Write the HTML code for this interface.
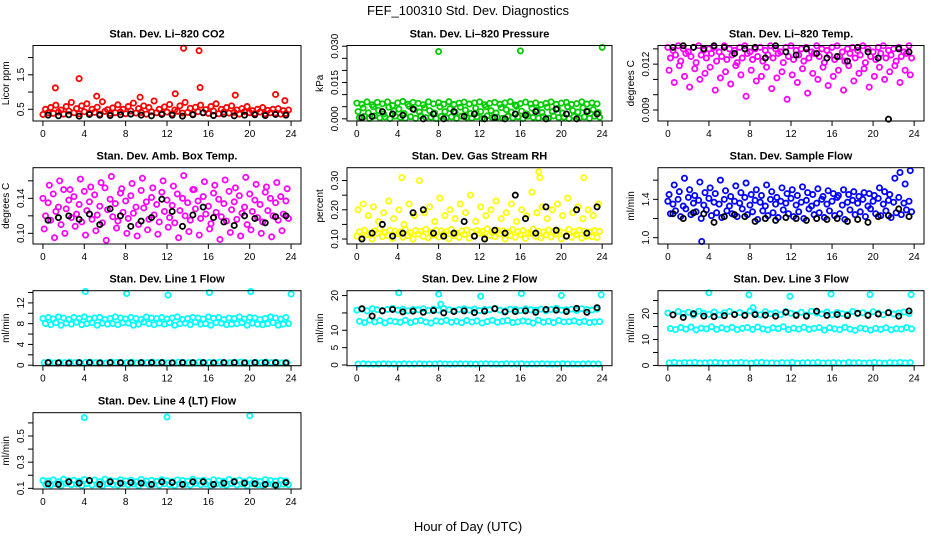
<!DOCTYPE html>
<html><head><meta charset="utf-8">
<style>
html,body{margin:0;padding:0;background:#fff;}
svg{display:block;font-family:"Liberation Sans",Arial,sans-serif;}
</style></head>
<body>
<svg id="chart" width="936" height="540" viewBox="0 0 936 540">
<text x="468" y="15" text-anchor="middle" font-size="13">FEF_100310  Std. Dev. Diagnostics</text>
<text x="468" y="531" text-anchor="middle" font-size="13">Hour of Day (UTC)</text>
</svg>
<script>
const xTicks=[0,4,8,12,16,20,24];
// P1 CO2
const co2A=[0.35,0.4,0.38,0.42,0.36,0.45,0.4,0.37,0.43,0.39,0.41,0.36,0.44,0.38,0.4,0.42,0.37,0.45,0.39,0.41,0.36,0.43,0.4,0.38,0.42,0.37,0.44,0.39,0.41,0.36,0.43,0.4,0.38,0.45,0.37,0.42,0.39,0.41,0.36,0.43,0.4,0.38,0.42,0.37,0.4,0.39,0.36,0.38];
const co2B=[0.5,0.55,0.62,0.48,0.58,0.7,0.52,0.6,0.66,0.5,0.56,0.72,0.49,0.54,0.63,0.5,0.58,0.68,0.52,0.6,0.55,0.74,0.5,0.57,0.64,0.48,0.6,0.7,0.53,0.56,0.62,0.49,0.58,0.66,0.5,0.55,0.6,0.48,0.52,0.58,0.46,0.5,0.55,0.47,0.5,0.52,0.46,0.48];
const co2K=[0.33,0.31,0.34,0.3,0.35,0.33,0.32,0.34,0.36,0.33,0.31,0.35,0.33,0.3,0.34,0.4,0.32,0.36,0.31,0.33,0.34,0.32,0.35,0.33];
const co2OutH=[1.2,3.5,5.2,9.4,12.8,13.6,15.1,15.2,18.6,22.5,23.4];
const co2OutV=[1.12,1.39,0.88,0.85,0.95,2.27,2.2,1.13,0.91,0.93,0.75];
// P2 pressure
const prA=[0.0065,0.006,0.007,0.0058,0.0068,0.0062,0.007,0.0055,0.0066,0.0072,0.006,0.0068,0.0064,0.0058,0.007,0.0062,0.0067,0.006,0.0071,0.0059,0.0065,0.0069,0.0061,0.0066,0.007,0.0058,0.0064,0.0068,0.006,0.0066,0.0071,0.0057,0.0063,0.0069,0.0061,0.0066,0.0058,0.0064,0.007,0.006,0.0065,0.0068,0.0059,0.0063,0.007,0.0061,0.0066,0.0062];
const prB=[0.0005,0.001,0.0002,0.0012,0.0004,0.0008,0.0001,0.0011,0.0006,0.0003,0.0009,0.0002,0.0012,0.0005,0.0007,0.0001,0.001,0.0004,0.0008,0.0002,0.0011,0.0006,0.0003,0.0009,0.0001,0.0012,0.0005,0.0007,0.0002,0.001,0.0004,0.0008,0.0001,0.0011,0.0006,0.0003,0.0009,0.0002,0.0012,0.0005,0.0007,0.0001,0.001,0.0004,0.0008,0.0002,0.0011,0.0006];
const prC=[0.003,0.0045,0.0025,0.005,0.0035,0.002,0.0048,0.0032,0.004,0.0022,0.0052,0.0038,0.0028,0.0046,0.0034,0.0024,0.005,0.003,0.0042,0.0026,0.0048,0.0036,0.0022,0.0044,0.003,0.005,0.0034,0.0024,0.0046,0.0038,0.0028,0.0052,0.0032,0.002,0.0044,0.0036,0.0026,0.0048,0.003,0.0042,0.0024,0.005,0.0034,0.0028,0.0046,0.0032,0.0038,0.0026];
const prK=[0.0005,0.001,0.003,0.002,0.0015,0.004,0.0,0.002,0.0,0.003,0.001,0.002,0.0,0.0005,0.0,0.002,0.0015,0.003,0.0,0.004,0.002,0.0,0.003,0.002];
const prOutH=[8,16,24];
const prOutV=[0.0278,0.0281,0.0295];
// P3 Li-820 temp
const ltA=[0.0131,0.0129,0.0132,0.013,0.0128,0.0131,0.0132,0.0129,0.013,0.0131,0.0128,0.0132,0.013,0.0129,0.0131,0.0132,0.0128,0.013,0.0131,0.0129,0.0132,0.013,0.0128,0.0131,0.0132,0.0129,0.013,0.0131,0.0128,0.0132,0.013,0.0129,0.0131,0.0132,0.0128,0.013,0.0131,0.0129,0.0132,0.013,0.0128,0.0131,0.0132,0.0129,0.013,0.0131,0.0128,0.0132];
const ltB=[0.0124,0.0126,0.0122,0.0127,0.0125,0.0121,0.0126,0.0124,0.0127,0.0122,0.0125,0.0123,0.0126,0.0121,0.0124,0.0127,0.0123,0.0125,0.0122,0.0126,0.0124,0.0127,0.0121,0.0125,0.0123,0.0126,0.0122,0.0124,0.0127,0.0125,0.0121,0.0126,0.0123,0.0125,0.0122,0.0127,0.0124,0.0126,0.0121,0.0125,0.0123,0.0127,0.0124,0.0126,0.0122,0.0125,0.0127,0.0124];
const ltC=[0.0116,0.0108,0.0119,0.0112,0.0105,0.0117,0.011,0.0114,0.0118,0.0103,0.0111,0.0115,0.0107,0.0119,0.0113,0.0099,0.0116,0.0109,0.0112,0.0118,0.0104,0.0111,0.0115,0.0097,0.0113,0.0108,0.0117,0.0101,0.0114,0.011,0.0118,0.0106,0.0112,0.0116,0.0103,0.0119,0.0109,0.0114,0.0117,0.0105,0.0112,0.0118,0.011,0.0115,0.0119,0.0108,0.0116,0.0113];
const ltK=[0.0131,0.0132,0.0131,0.013,0.0132,0.0131,0.0127,0.013,0.0131,0.0124,0.0132,0.0128,0.0126,0.013,0.0127,0.0124,0.0125,0.0122,0.0131,0.0128,0.0124,0.0084,0.013,0.0128];
// P4 amb box temp
const abA=[0.14,0.135,0.145,0.13,0.15,0.138,0.142,0.133,0.148,0.136,0.144,0.131,0.152,0.139,0.134,0.146,0.137,0.143,0.13,0.149,0.136,0.141,0.133,0.147,0.138,0.132,0.145,0.14,0.135,0.15,0.137,0.142,0.131,0.146,0.139,0.134,0.148,0.136,0.143,0.13,0.145,0.138,0.133,0.147,0.14,0.135,0.142,0.137];
const abB=[0.12,0.115,0.125,0.11,0.128,0.118,0.122,0.113,0.126,0.116,0.121,0.112,0.127,0.119,0.114,0.124,0.117,0.123,0.11,0.129,0.116,0.121,0.113,0.125,0.118,0.112,0.126,0.12,0.115,0.128,0.117,0.122,0.111,0.124,0.119,0.114,0.127,0.116,0.123,0.11,0.125,0.118,0.113,0.126,0.12,0.115,0.122,0.117];
const abC=[0.105,0.155,0.095,0.16,0.1,0.15,0.108,0.162,0.098,0.153,0.103,0.158,0.092,0.165,0.106,0.151,0.1,0.157,0.097,0.163,0.104,0.152,0.099,0.16,0.107,0.154,0.095,0.166,0.102,0.15,0.098,0.159,0.105,0.155,0.093,0.161,0.101,0.152,0.097,0.164,0.104,0.156,0.1,0.153,0.096,0.158,0.103,0.151];
const abK=[0.115,0.118,0.12,0.116,0.122,0.11,0.128,0.12,0.108,0.114,0.118,0.139,0.125,0.108,0.121,0.13,0.118,0.113,0.109,0.12,0.117,0.112,0.119,0.12];
// P5 RH
const rhA=[0.11,0.105,0.115,0.1,0.12,0.108,0.113,0.102,0.118,0.106,0.112,0.1,0.117,0.109,0.104,0.114,0.107,0.119,0.101,0.111,0.106,0.116,0.103,0.11,0.12,0.105,0.113,0.108,0.118,0.1,0.112,0.106,0.115,0.102,0.119,0.109,0.104,0.114,0.107,0.117,0.101,0.111,0.106,0.116,0.103,0.11,0.108,0.105];
const rhB=[0.125,0.13,0.12,0.128,0.135,0.122,0.13,0.127,0.124,0.132,0.121,0.129,0.126,0.134,0.123,0.13,0.128,0.125,0.133,0.12,0.127,0.131,0.124,0.129,0.126,0.135,0.122,0.13,0.128,0.123,0.132,0.125,0.129,0.121,0.134,0.127,0.124,0.131,0.126,0.128,0.122,0.133,0.125,0.13,0.127,0.124,0.129,0.126];
const rhC=[0.2,0.22,0.18,0.21,0.16,0.19,0.23,0.17,0.2,0.15,0.22,0.18,0.3,0.19,0.21,0.16,0.24,0.18,0.2,0.17,0.22,0.19,0.25,0.16,0.21,0.18,0.2,0.23,0.17,0.19,0.22,0.16,0.2,0.18,0.26,0.19,0.21,0.17,0.2,0.22,0.18,0.24,0.19,0.21,0.17,0.2,0.18,0.22];
const rhK=[0.1,0.12,0.15,0.11,0.12,0.19,0.2,0.12,0.11,0.12,0.16,0.11,0.1,0.13,0.12,0.25,0.17,0.12,0.21,0.13,0.11,0.2,0.12,0.21];
const rhOutH=[4.4,17.8,17.9,22.2];
const rhOutV=[0.31,0.33,0.31,0.31];
// P6 sample flow
const sfA=[1.38,1.35,1.4,1.33,1.42,1.36,1.39,1.34,1.41,1.37,1.35,1.4,1.33,1.38,1.36,1.42,1.34,1.39,1.37,1.33,1.4,1.35,1.38,1.36,1.41,1.34,1.37,1.39,1.33,1.36,1.4,1.35,1.38,1.42,1.34,1.37,1.39,1.36,1.4,1.33,1.38,1.41,1.35,1.39,1.37,1.42,1.36,1.38];
const sfB=[1.25,1.28,1.22,1.3,1.24,1.27,1.2,1.29,1.23,1.26,1.21,1.28,1.25,1.22,1.3,1.24,1.27,1.19,1.28,1.23,1.26,1.21,1.29,1.25,1.22,1.27,1.2,1.3,1.24,1.26,1.21,1.28,1.23,1.25,1.19,1.29,1.24,1.27,1.22,1.3,1.25,1.23,1.28,1.21,1.26,1.24,1.29,1.27];
const sfC=[1.45,1.55,1.48,1.62,1.5,1.44,1.58,1.47,1.52,1.46,1.6,1.49,1.43,1.54,1.47,1.57,1.45,1.5,1.44,1.55,1.48,1.42,1.52,1.46,1.5,1.44,1.53,1.47,1.45,1.51,1.43,1.49,1.46,1.44,1.5,1.45,1.48,1.43,1.47,1.46,1.44,1.52,1.48,1.45,1.62,1.68,1.56,1.7];
const sfK=[1.25,1.2,1.26,1.25,1.16,1.22,1.24,1.22,1.17,1.2,1.18,1.21,1.2,1.18,1.2,1.19,1.2,1.17,1.19,1.16,1.22,1.23,1.3,1.22];
const sfOutH=[3.3];
const sfOutV=[0.96];
// P7 line 1
const l1A=[9.0,9.2,8.9,9.3,9.1,8.8,9.2,9.0,9.3,8.9,9.1,9.2,8.8,9.0,9.3,9.1,8.9,9.2,9.0,8.8,9.3,9.1,9.0,9.2,8.9,9.1,9.3,8.8,9.0,9.2,9.1,8.9,9.3,9.0,9.2,8.8,9.1,9.0,9.3,8.9,9.2,9.1,8.8,9.0,9.3,9.1,8.9,9.2];
const l1B=[8.0,7.8,8.2,7.7,8.1,7.9,8.3,7.8,8.0,8.2,7.7,8.1,7.9,8.0,7.8,8.2,8.1,7.7,7.9,8.3,8.0,7.8,8.1,7.9,8.2,7.7,8.0,8.1,7.8,8.3,7.9,8.0,7.7,8.2,8.1,7.8,7.9,8.0,8.2,7.7,8.1,7.9,7.8,8.0,8.2,7.7,7.9,8.0];
const l1C=[0.5,0.6,0.45,0.55,0.5,0.6,0.5,0.45,0.55,0.6,0.5,0.5,0.45,0.6,0.55,0.5,0.5,0.6,0.45,0.55,0.5,0.6,0.5,0.55,0.45,0.5,0.6,0.55,0.5,0.45,0.6,0.5,0.55,0.5,0.6,0.45,0.5,0.55,0.6,0.5,0.45,0.55,0.5,0.6,0.5,0.55,0.45,0.5];
const l1K=[0.5,0.45,0.4,0.5,0.5,0.45,0.5,0.5,0.45,0.5,0.5,0.5,0.45,0.5,0.5,0.5,0.45,0.5,0.5,0.45,0.5,0.5,0.5,0.45];
const l1OutH=[4.1,8.1,12.1,16.1,20.1,24];
const l1OutV=[14.2,13.8,13.5,14.0,14.2,13.7];
// P8 line 2
const l2A=[15.8,16.1,15.6,16.2,15.9,15.7,16.0,16.3,15.8,16.1,15.6,16.0,15.9,16.2,15.7,16.1,15.8,16.3,15.9,15.6,16.0,16.2,15.8,16.1,15.7,16.0,15.9,16.3,15.8,15.6,16.1,16.0,15.7,16.2,15.9,15.8,16.1,15.6,16.0,16.3,15.8,15.9,16.1,15.7,16.2,16.0,15.8,16.1];
const l2B=[12.6,12.2,12.9,12.4,12.8,12.1,12.7,12.5,12.3,12.9,12.2,12.6,12.8,12.4,12.1,12.7,12.5,12.9,12.3,12.6,12.2,12.8,12.4,12.7,12.1,12.5,12.9,12.3,12.6,12.8,12.2,12.4,12.7,12.5,12.1,12.9,12.3,12.6,12.2,12.8,12.4,12.5,12.7,12.3,12.6,12.2,12.4,12.5];
const l2C=[0.3,0.35,0.3,0.25,0.3,0.35,0.3,0.3,0.25,0.35,0.3,0.3,0.35,0.25,0.3,0.3,0.35,0.3,0.25,0.3,0.35,0.3,0.3,0.25,0.3,0.35,0.3,0.3,0.25,0.35,0.3,0.3,0.35,0.25,0.3,0.3,0.35,0.3,0.25,0.3,0.35,0.3,0.3,0.25,0.3,0.35,0.3,0.3];
const l2K=[16.2,14.1,15.6,16.0,15.3,15.5,15.2,15.7,15.0,15.4,15.6,15.1,15.5,16.2,15.3,15.4,15.6,15.2,16.0,15.8,15.4,16.3,15.2,16.5];
const l2OutH=[4.1,8.0,8.2,12.1,16.1,20.0,23.9];
const l2OutV=[20.8,20.4,17.5,19.8,20.6,20.0,20.2];
// P9 line 3
const l3A=[20.2,19.6,20.8,19.9,20.5,19.4,20.9,20.1,19.7,20.6,19.5,20.3,20.8,19.8,20.4,19.6,21.0,20.0,19.5,20.7,19.9,20.3,19.6,20.8,20.1,19.7,20.5,19.4,20.9,20.2,19.8,20.6,19.5,20.4,20.0,19.7,20.8,19.9,20.3,19.6,20.7,20.1,19.5,20.5,19.8,20.2,20.6,20.0];
const l3B=[14.2,13.8,14.6,14.0,14.8,13.7,14.4,14.1,14.9,13.9,14.5,14.0,14.7,13.8,14.3,14.6,13.9,14.8,14.1,13.7,14.5,14.2,14.9,13.8,14.4,14.0,14.7,13.9,14.3,14.6,13.6,14.5,14.1,13.8,14.7,14.0,13.5,14.4,14.1,13.6,14.3,13.9,14.5,13.7,14.2,14.0,14.6,14.1];
const l3C=[1.0,1.2,0.9,1.1,1.0,1.2,0.9,1.0,1.1,1.2,1.0,0.9,1.1,1.0,1.2,1.0,0.9,1.1,1.2,1.0,1.0,0.9,1.1,1.0,1.2,0.9,1.0,1.1,1.0,1.2,0.9,1.0,1.1,1.0,0.9,1.2,1.0,1.1,0.9,1.0,1.2,1.0,0.9,1.1,1.0,1.2,1.0,1.1];
const l3K=[19.5,18.5,19.9,19.0,18.8,19.2,19.6,19.3,19.6,19.4,19.0,20.5,19.3,19.0,20.9,19.3,19.6,19.2,20.1,19.3,19.8,20.3,19.0,21.0];
const l3OutH=[4.0,7.9,8.3,11.9,15.9,19.7,23.7];
const l3OutV=[28.0,27.2,22.3,26.6,27.5,27.3,27.3];
// P10 line 4
const l4A=[0.16,0.155,0.165,0.15,0.17,0.158,0.162,0.153,0.168,0.156,0.164,0.151,0.17,0.159,0.154,0.166,0.157,0.163,0.15,0.169,0.156,0.161,0.153,0.167,0.158,0.152,0.165,0.16,0.155,0.17,0.157,0.162,0.151,0.166,0.159,0.154,0.168,0.156,0.163,0.15,0.165,0.158,0.153,0.167,0.16,0.155,0.162,0.157];
const l4B=[0.13,0.125,0.135,0.12,0.138,0.128,0.132,0.122,0.136,0.126,0.131,0.12,0.137,0.129,0.124,0.134,0.127,0.133,0.12,0.139,0.126,0.131,0.123,0.135,0.128,0.122,0.136,0.13,0.125,0.138,0.127,0.132,0.121,0.134,0.129,0.124,0.137,0.126,0.133,0.12,0.135,0.128,0.123,0.136,0.13,0.125,0.132,0.127];
const l4K=[0.135,0.13,0.15,0.14,0.16,0.13,0.15,0.14,0.145,0.14,0.13,0.15,0.145,0.13,0.15,0.15,0.13,0.14,0.15,0.14,0.135,0.13,0.125,0.145];
const l4OutH=[4.0,12.0,20.0];
const l4OutV=[0.64,0.645,0.655];

const panels=[
 {name:'co2',title:'Stan. Dev. Li\u2013820 CO2',ylab:'Licor ppm',col:0,row:0,ylim:[0.16,2.35],yt:[0.5,1,1.5,2],yl:['0.5','','1.5',''],color:'#ff0000',series:[co2A,co2B],black:co2K,outH:co2OutH,outV:co2OutV},
 {name:'pressure',title:'Stan. Dev. Li\u2013820 Pressure',ylab:'kPa',col:1,row:0,ylim:[-0.0009,0.0303],yt:[0,0.005,0.01,0.015,0.02,0.025,0.03],yl:['0.000','','','0.015','','','0.030'],color:'#00cc00',series:[prA,prB,prC],black:prK,outH:prOutH,outV:prOutV},
 {name:'li820-temp',title:'Stan. Dev. Li\u2013820 Temp.',ylab:'degrees C',col:2,row:0,ylim:[0.00828,0.01322],yt:[0.009,0.010,0.011,0.012,0.013],yl:['0.009','','','0.012',''],color:'#ff00ff',series:[ltA,ltB,ltC],black:ltK,outH:[],outV:[]},
 {name:'amb-box-temp',title:'Stan. Dev. Amb. Box Temp.',ylab:'degrees C',col:0,row:1,ylim:[0.0878,0.175],yt:[0.10,0.12,0.14,0.16],yl:['0.10','','0.14',''],color:'#ff00ff',series:[abA,abB,abC],black:abK,outH:[],outV:[]},
 {name:'gas-rh',title:'Stan. Dev. Gas Stream RH',ylab:'percent',col:1,row:1,ylim:[0.083,0.344],yt:[0.10,0.15,0.20,0.25,0.30],yl:['0.10','','0.20','','0.30'],color:'#ffff00',series:[rhA,rhB,rhC],black:rhK,outH:rhOutH,outV:rhOutV},
 {name:'sample-flow',title:'Stan. Dev. Sample Flow',ylab:'ml/min',col:2,row:1,ylim:[0.934,1.73],yt:[1.0,1.2,1.4,1.6],yl:['1.0','','1.4',''],color:'#0000ff',series:[sfA,sfB,sfC],black:sfK,outH:sfOutH,outV:sfOutV},
 {name:'line1-flow',title:'Stan. Dev. Line 1 Flow',ylab:'ml/min',col:0,row:2,ylim:[-0.1,14.35],yt:[0,2,4,6,8,10,12,14],yl:['0','','4','','8','','12',''],color:'#00ffff',series:[l1A,l1B,l1C],black:l1K,outH:l1OutH,outV:l1OutV},
 {name:'line2-flow',title:'Stan. Dev. Line 2 Flow',ylab:'ml/min',col:1,row:2,ylim:[-0.2,21.4],yt:[0,5,10,15,20],yl:['0','5','10','','20'],color:'#00ffff',series:[l2A,l2B,l2C],black:l2K,outH:l2OutH,outV:l2OutV},
 {name:'line3-flow',title:'Stan. Dev. Line 3 Flow',ylab:'ml/min',col:2,row:2,ylim:[-0.1,28.8],yt:[0,5,10,15,20,25],yl:['0','','10','','20',''],color:'#00ffff',series:[l3A,l3B,l3C],black:l3K,outH:l3OutH,outV:l3OutV},
 {name:'line4-flow',title:'Stan. Dev. Line 4 (LT) Flow',ylab:'ml/min',col:0,row:3,ylim:[0.095,0.678],yt:[0.1,0.2,0.3,0.4,0.5,0.6],yl:['0.1','','0.3','','0.5',''],color:'#00ffff',series:[l4A,l4B],black:l4K,outH:l4OutH,outV:l4OutV}
];
const colX=[[33,301],[347,612],[658,924]];
const rowY=[[45.5,121],[167.7,244],[290.7,365.7],[412.7,489]];
const NS='http://www.w3.org/2000/svg';
const svg=document.getElementById('chart');
function mk(tag,attrs,parent){const e=document.createElementNS(NS,tag);for(const k in attrs)e.setAttribute(k,attrs[k]);parent.appendChild(e);return e;}
panels.forEach(p=>{
 const x0=colX[p.col][0],x1=colX[p.col][1],y0=rowY[p.row][0],y1=rowY[p.row][1];
 const g=mk('g',{},svg);
 
 
 const sx=h=>x0+(h+0.96)/25.92*(x1-x0);
 const sy=v=>y1-(v-p.ylim[0])/(p.ylim[1]-p.ylim[0])*(y1-y0);
 const t=mk('text',{x:(x0+x1)/2,y:y0-8,'text-anchor':'middle','font-size':'11','font-weight':'bold'},g);
 t.textContent=p.title;
 
 
 const pts=mk('g',{fill:'none','stroke-width':'1.8'},g);
 
 
 const offs=[0,0.25,0.12];
 p.series.forEach((arr,si)=>{
  arr.forEach((v,i)=>{
   const c=mk('circle',{cx:sx(i*0.5+offs[si]),cy:sy(v),r:2.6,stroke:p.color},pts);
   
   
  });
 });
 p.outH.forEach((h,i)=>{
  const c=mk('circle',{cx:sx(h),cy:sy(p.outV[i]),r:2.6,stroke:p.color},pts);
  
  
 });
 p.black.forEach((v,i)=>{
  const c=mk('circle',{cx:sx(i+0.5),cy:sy(v),r:2.6,stroke:'#000'},pts);
  
  
 });
 const box=mk('rect',{x:x0,y:y0,width:x1-x0,height:y1-y0,fill:'none',stroke:'#000','stroke-width':'1'},g);
 
 
 const ax=mk('g',{stroke:'#000','stroke-width':'1'},g);
 
 
 mk('line',{x1:sx(xTicks[0]),x2:sx(xTicks[xTicks.length-1]),y1:y1,y2:y1},ax);
 xTicks.forEach(h=>{
  mk('line',{x1:sx(h),x2:sx(h),y1:y1,y2:y1+5},ax);
  const l=mk('text',{x:sx(h),y:y1+16,'text-anchor':'middle','font-size':'10'},g);
  l.textContent=h;
  
  
 });
 p.yt.forEach((v,i)=>{
  mk('line',{x1:x0-5,x2:x0,y1:sy(v),y2:sy(v)},ax);
  if(p.yl[i]){
   const l=mk('text',{x:x0-9,y:sy(v),'text-anchor':'middle','font-size':'10',transform:'rotate(-90 '+(x0-9)+' '+sy(v)+')'},g);
   l.textContent=p.yl[i];
   
   
  }
 });
 const ym=(y0+y1)/2, yx=x0-24;
 const yt=mk('text',{x:yx,y:ym,'text-anchor':'middle','font-size':'10',transform:'rotate(-90 '+yx+' '+ym+')'},g);
 yt.textContent=p.ylab;
 
 
});
</script>
</body></html>
